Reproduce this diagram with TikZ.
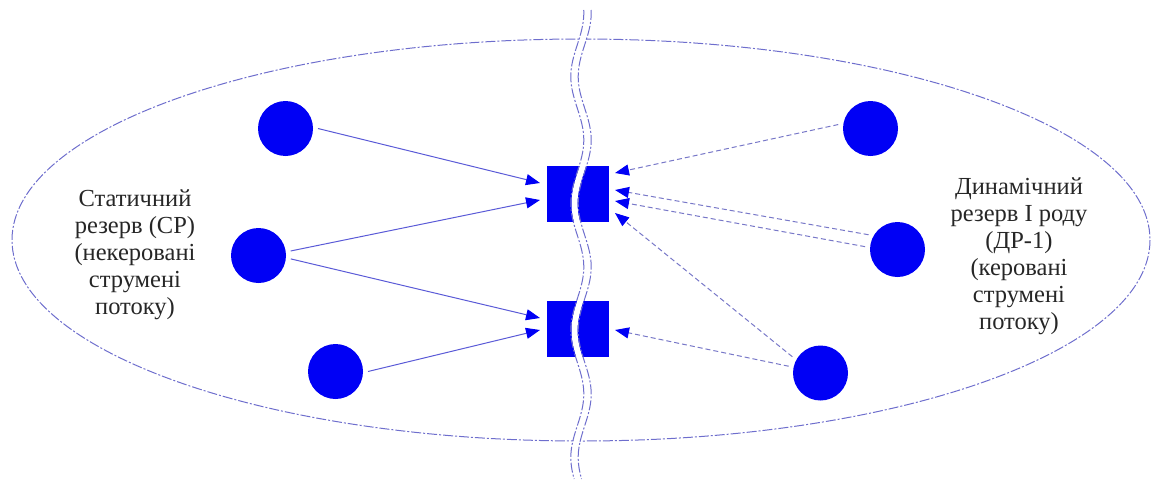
\documentclass[tikz,border=0pt]{standalone}
\usepackage{fontspec}
\setmainfont{Liberation Serif}
\newfontfamily\tnr{Liberation Serif}
\usetikzlibrary{arrows.meta}
\definecolor{dotblue}{RGB}{0,0,245}
\definecolor{lineblue}{RGB}{90,90,215}
\definecolor{dashblue}{RGB}{120,120,200}
\definecolor{ellblue}{RGB}{110,110,205}
\begin{document}
\begin{tikzpicture}[x=1pt,y=-1pt,
  dot/.style={circle,fill=dotblue,draw=none,minimum size=55pt,inner sep=0pt,outer sep=5pt},
  port/.style={rectangle,fill=dotblue,draw=none,minimum width=62pt,minimum height=56pt,inner sep=0pt},
  lbl/.style={align=center,font=\tnr\fontsize{24.5}{27}\selectfont,text=black!85},
  tip/.style={-{Triangle[length=14pt,width=11pt,color=dotblue]}},
  sarrow/.style={tip,draw=lineblue,line width=1pt},
  darrow/.style={tip,draw=dashblue,line width=1pt,dash pattern=on 5pt off 3pt},
  dashdot/.style={draw=ellblue,line width=1pt,dash pattern=on 10pt off 2pt on 2pt off 2pt}]
\useasboundingbox (0,0) rectangle (1156,479);
% outer ellipse
\draw[dashdot] (581,240) ellipse [x radius=569, y radius=201];
% texts
\node[lbl] (ltext) at (135,255) {Статичний\\резерв (СР)\\(некеровані\\струмені\\потоку)};
\node[lbl] (rtext) at (1019,256) {Динамічний\\резерв І роду\\(ДР-1)\\(керовані\\струмені\\потоку)};
% circles
\node[dot] (c1) at (285.5,128.5) {};
\node[dot] (c2) at (258.5,255.5) {};
\node[dot] (c3) at (335.5,371.5) {};
\node[dot] (c4) at (870.5,128.5) {};
\node[dot] (c5) at (897.5,249.5) {};
\node[dot] (c6) at (820.5,373) {};
% ports
\node[port] (r1) at (578,194) {};
\node[port] (r2) at (578,329) {};
% arrow tip coordinates
\coordinate (a1) at (540,183);
\coordinate (a2) at (540,200);
\coordinate (a3) at (540,318);
\coordinate (a4) at (540,330);
\coordinate (b1) at (615,173);
\coordinate (b2) at (615,190);
\coordinate (b3) at (615,201);
\coordinate (b4) at (615,213);
\coordinate (b5) at (615,330);
% solid arrows
\draw[sarrow] (c1.0) -- (a1);
\draw[sarrow] (c2.8) -- (a2);
\draw[sarrow] (c2.-6) -- (a3);
\draw[sarrow] (c3.0) -- (a4);
% dashed arrows
\draw[darrow] (c4.173) -- (b1);
\draw[darrow] (c5.153) -- (b2);
\draw[darrow] (c5.175) -- (b3);
\draw[darrow] (c6.150) -- (b4);
\draw[darrow] (c6.168) -- (b5);
% wavy break line
\draw[white,line width=6pt] plot[domain=10:479,samples=120,smooth] ({581+6.5*cos(2.8346*(\x-13))},\x);
\draw[dashdot] plot[domain=10:479,samples=120,smooth] ({577.3+6.5*cos(2.8346*(\x-13))},\x);
\draw[dashdot] plot[domain=10:479,samples=120,smooth] ({584.7+6.5*cos(2.8346*(\x-13))},\x);
\end{tikzpicture}
\end{document}
